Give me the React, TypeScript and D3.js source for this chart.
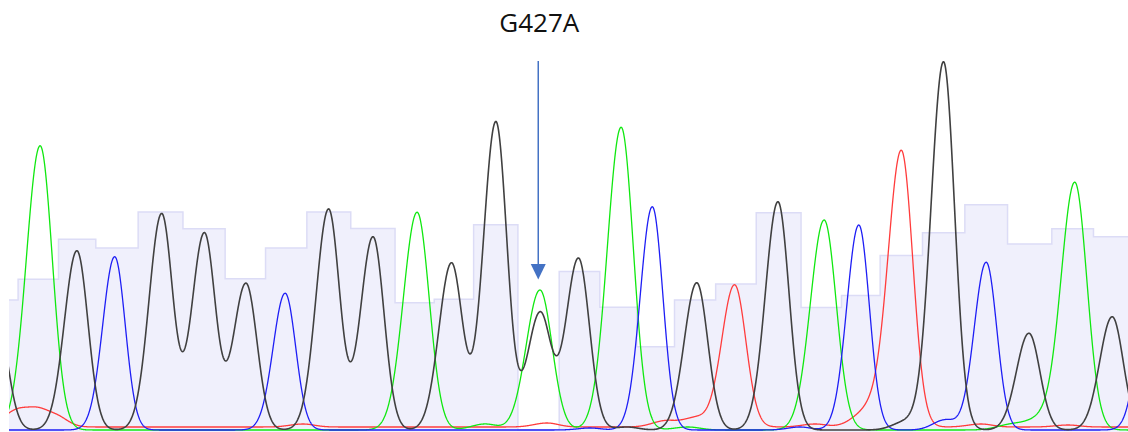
import React, { useMemo } from "react";
import * as d3 from "d3";

const WIDTH = 1128;
const HEIGHT = 432;

// ---- Base calls (scan position, call, quality value) ----
const baseScans = [3996.3, 4008.9, 4019.4, 4030.2, 4043.6, 4055.8, 4067.7, 4078.9, 4091.3, 4104.0, 4116.6, 4126.4, 4139.1, 4151.7, 4162.7, 4174.9, 4183.8, 4196.5, 4207.3, 4219.7, 4232.9, 4242.8, 4255.0, 4267.0, 4279.2, 4291.4, 4304.5, 4315.2, 4326.3];
const baseCalls = ["G", "A", "G", "C", "G", "G", "G", "C", "G", "G", "A", "G", "G", "R", "G", "A", "C", "G", "T", "G", "A", "C", "T", "G", "C", "G", "A", "G", "C"];
const qualities = [32.5, 37.7, 47.7, 45.5, 54.5, 50.3, 37.8, 45.5, 54.5, 50.4, 31.8, 32.7, 51.3, 0, 39.6, 30.7, 20.8, 32.5, 36.5, 54.3, 30.6, 33.6, 43.6, 49.3, 56.3, 46.5, 50.3, 48.3, 45];

// ---- Trace peaks per dye channel (scan, signal) ----
const aPeakScans = [4008.9, 4116.6, 4151.7, 4174.9, 4232.9, 4304.5];
const aPeakSignals = [1137, 871, 560, 1211, 840, 991];
const cPeakScans = [4030.2, 4078.9, 4183.8, 4242.8, 4279.2, 4326.3];
const cPeakSignals = [693, 547, 893, 820, 671, 680];
const gPeakScans = [3996.3, 4019.4, 4043.6, 4055.8, 4067.7, 4091.3, 4104.0, 4126.4, 4139.1, 4151.7, 4162.7, 4196.5, 4219.7, 4267.0, 4291.4, 4315.2];
const gPeakSignals = [472, 717, 864, 787, 587, 883, 773, 667, 1233, 467, 687, 589, 913, 1473, 387, 453];
const tPeakScans = [4207.3, 4255.0];
const tPeakSignals = [569, 1096];

// ---- Background noise bumps per channel (scan, signal) ----
const aNoiseScans = [4136, 4194, 4286, 4294];
const aNoiseSignals = [24, 12, 20, 40];
const cNoiseScans = [4166, 4226, 4267.4];
const cNoiseSignals = [8, 12, 40];
const gNoiseScans = [4176.6, 4256];
const gNoiseSignals = [12, 32];
const tNoiseScans = [4001.4, 4007.4, 4013.4, 4084, 4153.7, 4187.4, 4196, 4230.3, 4243.7, 4248.9, 4277.7, 4302.6];
const tNoiseSignals = [52, 60, 42, 12, 16, 24, 36, 12, 40, 64, 12, 8];
const tBaseline = 12;

// ---- Annotation ----
const mutationLabel = "G427A";
const mutationScan = 4151.5;

const SIGMA_LEFT = 3.57;
const SIGMA_RIGHT = 3.14;

type Channel = { key: string; color: string; width: number; spread: number; scans: number[]; signals: number[]; baseline: number };

const channels: Channel[] = [
  { key: "T", color: "#FF3C3C", width: 1.3, spread: 1.03, scans: [...tPeakScans, ...tNoiseScans], signals: [...tPeakSignals, ...tNoiseSignals], baseline: tBaseline },
  { key: "A", color: "#10E810", width: 1.3, spread: 1.1, scans: [...aPeakScans, ...aNoiseScans], signals: [...aPeakSignals, ...aNoiseSignals], baseline: 0 },
  { key: "C", color: "#1E1EF5", width: 1.3, spread: 0.96, scans: [...cPeakScans, ...cNoiseScans], signals: [...cPeakSignals, ...cNoiseSignals], baseline: 0 },
  { key: "G", color: "#404040", width: 1.6, spread: 1.0, scans: [...gPeakScans, ...gNoiseScans], signals: [...gPeakSignals, ...gNoiseSignals], baseline: 0 },
];

function traceValue(ch: Channel, s: number) {
  let v = ch.baseline;
  for (let i = 0; i < ch.scans.length; i++) {
    const d = s - ch.scans[i];
    const sig = (d < 0 ? SIGMA_LEFT : SIGMA_RIGHT) * ch.spread;
    v += ch.signals[i] * Math.exp(-(d * d) / (2 * sig * sig));
  }
  return v;
}

export default function App() {
  const plotLeft = 9;
  const baselineY = 430;

  const x = d3.scaleLinear().domain([4000, 4320]).range([plotLeft, plotLeft + 1120]);
  const ySignal = d3.scaleLinear().domain([0, 1500]).range([baselineY, 55]);
  const yQual = d3.scaleLinear().domain([0, 60]).range([baselineY, 190]);

  const qualData = baseScans.map((s, i) => ({ s, q: qualities[i], call: baseCalls[i] }));
  const qualArea = d3
    .area<{ s: number; q: number }>()
    .x((d) => x(d.s))
    .y0(baselineY + 10)
    .y1((d) => yQual(d.q))
    .curve(d3.curveStep)(qualData);
  const qualLine = d3
    .line<{ s: number; q: number }>()
    .x((d) => x(d.s))
    .y((d) => yQual(d.q))
    .curve(d3.curveStep)(qualData);

  const samples = useMemo(() => d3.range(3990, 4332, 0.1), []);
  const traces = channels.map((ch) => {
    const pts = samples.map((s) => [x(s), ySignal(traceValue(ch, s))] as [number, number]);
    return { ch, d: d3.line()(pts) };
  });

  const ax = x(mutationScan);

  return (
    <svg
      width={WIDTH}
      height={HEIGHT}
      style={{ position: "absolute", left: 0, top: 0, background: "#fff" }}
    >
      <defs>
        <clipPath id="plotClip">
          <rect x={plotLeft} y={0} width={WIDTH - plotLeft} height={HEIGHT} />
        </clipPath>
      </defs>
      <g clipPath="url(#plotClip)">
        <path d={qualArea || ""} fill="#F0F0FC" stroke="none" />
        <path d={qualLine || ""} fill="none" stroke="#DCDCF6" strokeWidth={1.5} />
        {traces.map((t) => (
          <path
            key={t.ch.key}
            d={t.d || ""}
            fill="none"
            stroke={t.ch.color}
            strokeWidth={t.ch.width}
            strokeLinejoin="round"
          />
        ))}
      </g>
      <text
        x={ax}
        y={31.5}
        textAnchor="middle"
        fontFamily="'Open Sans', 'Noto Sans', sans-serif"
        fontSize={26}
        fill="#111"
      >
        {mutationLabel}
      </text>
      <line x1={ax - 1} x2={ax - 1} y1={61} y2={266} stroke="#4472C4" strokeWidth={1.5} />
      <path
        d={`M${ax - 8.5},${264} L${ax + 6.5},${264} L${ax - 1},${279.5} Z`}
        fill="#4472C4"
      />
    </svg>
  );
}
